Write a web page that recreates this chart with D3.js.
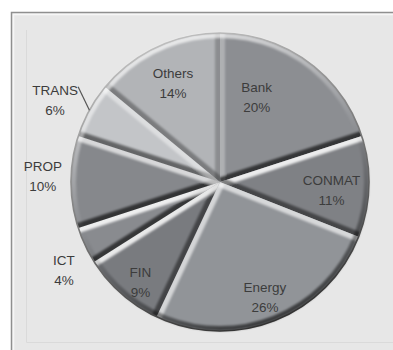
<!DOCTYPE html>
<html>
<head>
<meta charset="utf-8">
<script src="https://cdn.jsdelivr.net/npm/d3@7/dist/d3.min.js"></script>
<style>
  html, body { margin: 0; padding: 0; background: #ffffff; }
  svg { display: block; }
  text { font-family: "Liberation Sans", Arial, sans-serif; }
</style>
</head>
<body>
<div id="chart"></div>
<script>
// Sector shares of the portfolio (percent), clockwise from 12 o'clock
const categories = ["Bank", "CONMAT", "Energy", "FIN", "ICT", "PROP", "TRANS", "Others"];
const shares     = [20, 11, 26, 9, 4, 10, 6, 14];
const fills      = ["#8c8e92", "#7f8185", "#919498", "#797b7f", "#898b8f", "#86888c", "#c3c5c8", "#b2b4b7"];
// label placement: radius as fraction of pie radius, angular nudge in degrees
const labelRadius = [0.63, 0.75, 0.82, 0.85, 1.20, 1.19, 1.24, 0.74];
const labelNudge  = [-13, 1.8, 0, -2.5, -4, 2.3, -2, 0];

const W = 393, H = 350;
const cx = 220, cy = 182, R = 149;
const bevel = 5;
// direction towards the light (screen coords, y down)
const L = (() => { const x = -0.35, y = -0.94, n = Math.hypot(x, y); return [x / n, y / n]; })();

const data = categories.map((c, i) => ({ name: c, value: shares[i], fill: fills[i] }));

const svg = d3.select("#chart").append("svg")
  .attr("width", W).attr("height", H);

const defs = svg.append("defs");

// chart frame
svg.append("rect").attr("x", 11.5).attr("y", 12.5).attr("width", W).attr("height", H)
  .attr("fill", "#e7e7e7").attr("stroke", "#8f8f8f").attr("stroke-width", 1.5);
svg.append("path").attr("d", `M13.5,${H} V14.5 H${W}`)
  .attr("fill", "none").attr("stroke", "#f6f6f6").attr("stroke-width", 1.5);
// plot area outline (left and bottom edges)
svg.append("path").attr("d", `M26.5,30 V342.5 H${W}`)
  .attr("fill", "none").attr("stroke", "#dadada").attr("stroke-width", 1);

// shading gradients laid out along the light direction
function lightGradient(id, stops) {
  const lg = defs.append("linearGradient").attr("id", id)
    .attr("gradientUnits", "userSpaceOnUse")
    .attr("x1", cx + R * L[0]).attr("y1", cy + R * L[1])
    .attr("x2", cx - R * L[0]).attr("y2", cy - R * L[1]);
  stops.forEach(s => lg.append("stop").attr("offset", s[0])
    .attr("stop-color", s[1]).attr("stop-opacity", s[2]));
}
lightGradient("rim", [["0%", "#ffffff", 0.7], ["50%", "#ffffff", 0], ["50%", "#000000", 0], ["100%", "#000000", 0.6]]);
lightGradient("outline", [["0%", "#bdbdbd", 1], ["100%", "#333333", 1]]);

defs.append("filter").attr("id", "soft")
  .append("feGaussianBlur").attr("stdDeviation", 0.8);

const pie = d3.pie().value(d => d.value).sort(null);
const arcs = pie(data);
const arc = d3.arc().innerRadius(0).outerRadius(R);

const g = svg.append("g").attr("transform", `translate(${cx},${cy})`);

// slice fills
g.selectAll("path.slice").data(arcs).join("path")
  .attr("class", "slice")
  .attr("d", arc)
  .attr("fill", d => d.data.fill);

// per-slice bevel: clip to the slice and stroke its straight edges with a shade from the light direction
const shade = (nx, ny) => {
  const s = nx * L[0] + ny * L[1];
  return s >= 0 ? { c: "#ffffff", o: 0.85 * s } : { c: "#000000", o: 0.62 * -s };
};
arcs.forEach((d, k) => {
  defs.append("clipPath").attr("id", "clip" + k)
    .append("path").attr("d", arc(d));
  const edgeLayer = g.append("g").attr("clip-path", `url(#clip${k})`)
    .append("g").attr("filter", "url(#soft)");
  const a0 = d.startAngle, a1 = d.endAngle;
  const edges = [
    { a: a0, n: [-Math.cos(a0), -Math.sin(a0)] },  // start edge faces counter-clockwise
    { a: a1, n: [Math.cos(a1), Math.sin(a1)] }     // end edge faces clockwise
  ];
  edges.forEach(e => {
    const sh = shade(e.n[0], e.n[1]);
    edgeLayer.append("line")
      .attr("x1", 0).attr("y1", 0)
      .attr("x2", (R + 5) * Math.sin(e.a)).attr("y2", -(R + 5) * Math.cos(e.a))
      .attr("stroke", sh.c).attr("stroke-opacity", sh.o)
      .attr("stroke-width", bevel * 2);
  });
});

// outer rim bevel and outline
svg.append("circle")
  .attr("cx", cx).attr("cy", cy).attr("r", R - bevel / 2)
  .attr("fill", "none").attr("stroke", "url(#rim)").attr("stroke-width", bevel)
  .attr("filter", "url(#soft)");
svg.append("circle")
  .attr("cx", cx).attr("cy", cy).attr("r", R)
  .attr("fill", "none").attr("stroke", "url(#outline)").attr("stroke-width", 1.6);

// labels
const labels = svg.append("g").attr("fill", "#3c3c3c").attr("font-size", 13.5)
  .attr("text-anchor", "middle");
arcs.forEach((d, k) => {
  const mid = (d.startAngle + d.endAngle) / 2 + labelNudge[k] * Math.PI / 180;
  const r = labelRadius[k] * R;
  const x = cx + r * Math.sin(mid), y = cy - r * Math.cos(mid);
  const t = labels.append("text").attr("x", x).attr("y", y);
  t.append("tspan").attr("x", x).attr("dy", "-0.3em").text(d.data.name);
  t.append("tspan").attr("x", x).attr("dy", "1.5em").text(d.data.value + "%");
  // leader line for the narrow outside label
  if (d.data.name === "TRANS") {
    const midTrue = (d.startAngle + d.endAngle) / 2;
    const ex = cx + R * Math.sin(midTrue), ey = cy - R * Math.cos(midTrue);
    svg.append("path")
      .attr("d", `M${x + 23},${y - 12} L${ex},${ey}`)
      .attr("fill", "none").attr("stroke", "#555").attr("stroke-width", 1.2);
  }
});
</script>
</body>
</html>
